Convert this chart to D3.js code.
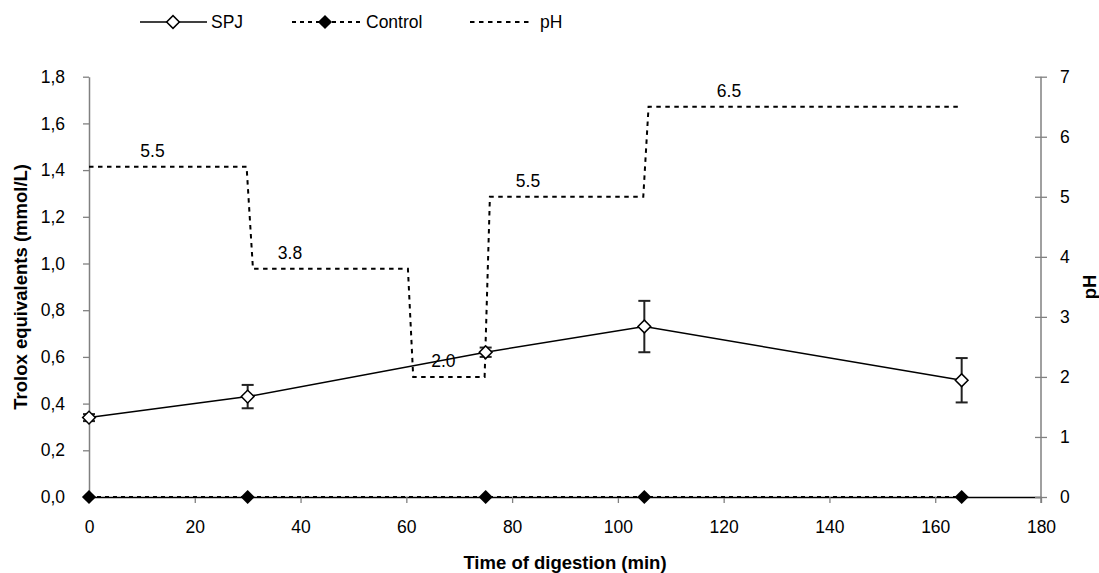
<!DOCTYPE html>
<html>
<head>
<meta charset="utf-8">
<script src="https://cdn.jsdelivr.net/npm/d3@7"></script>
<style>
  html, body { margin: 0; padding: 0; background: #fff; }
  svg { display: block; font-family: "Liberation Sans", Arial, sans-serif; }
</style>
</head>
<body>
<svg id="chart" width="1099" height="573"></svg>
<script>
// ---- data ----
const times = [0, 30, 75, 105, 165];
const spj = [0.34, 0.43, 0.62, 0.73, 0.50];
const spjErr = [0.015, 0.05, 0.02, 0.11, 0.095];
const control = [0, 0, 0, 0, 0];
const phTimes = [0, 29.8, 31, 60.3, 61.3, 74.8, 75.8, 104.8, 105.8, 165];
const phValues = [5.5, 5.5, 3.8, 3.8, 2.0, 2.0, 5.0, 5.0, 6.5, 6.5];
const phLabels = ["5.5", "3.8", "2.0", "5.5", "6.5"];
const phLabelTimes = [12, 38, 67, 83, 121];
const phLabelLevels = [5.5, 3.8, 2.0, 5.0, 6.5];
const xTicks = [0, 20, 40, 60, 80, 100, 120, 140, 160, 180];
const yLeftTicks = [0, 0.2, 0.4, 0.6, 0.8, 1.0, 1.2, 1.4, 1.6, 1.8];
const yRightTicks = [0, 1, 2, 3, 4, 5, 6, 7];

(function () {
// ---- layout ----
const svg = d3.select("#chart");
const pLeft = 89, pRight = 1041, pTop = 76.7, pBottom = 497;
const x = d3.scaleLinear().domain([0, 180]).range([pLeft, pRight]);
const yL = d3.scaleLinear().domain([0, 1.8]).range([pBottom, pTop]);
const yR = d3.scaleLinear().domain([0, 7]).range([pBottom, pTop]);
const fs = 17.5;
const axisGray = "#808080";
const ff = "Liberation Sans, Arial, sans-serif";

// x axis
const gx = svg.append("g").attr("transform", `translate(0,${pBottom})`)
  .call(d3.axisBottom(x).tickValues(xTicks).tickSize(6).tickPadding(18).tickSizeOuter(0));
gx.select(".domain").attr("stroke", "#000").attr("stroke-width", 1.3);
gx.selectAll(".tick line").attr("stroke", axisGray).attr("stroke-width", 1.3);
gx.selectAll(".tick text").attr("font-size", fs).attr("fill", "#000").attr("font-family", ff);

// left axis
const gl = svg.append("g").attr("transform", `translate(${pLeft},0)`)
  .call(d3.axisLeft(yL).tickValues(yLeftTicks).tickSize(6).tickPadding(18).tickSizeOuter(0)
    .tickFormat(d => d3.format(".1f")(d).replace(".", ",")));
gl.select(".domain").attr("stroke", axisGray).attr("stroke-width", 1.5);
gl.selectAll(".tick line").attr("stroke", axisGray).attr("stroke-width", 1.3);
gl.selectAll(".tick text").attr("font-size", fs).attr("fill", "#000").attr("font-family", ff);

// right axis
const gr = svg.append("g").attr("transform", `translate(${pRight},0)`)
  .call(d3.axisRight(yR).tickValues(yRightTicks).tickSize(6).tickPadding(13).tickSizeOuter(0)
    .tickFormat(d3.format("d")));
gr.select(".domain").attr("stroke", axisGray).attr("stroke-width", 1.5)
  .attr("d", `M0,${pTop}V${pBottom + 6}`);
gr.selectAll(".tick line").attr("x1", -6).attr("stroke", axisGray).attr("stroke-width", 1.3);
gr.selectAll(".tick text").attr("font-size", fs).attr("fill", "#000").attr("font-family", ff);

// axis titles
svg.append("text").attr("x", (pLeft + pRight) / 2).attr("y", 563).attr("dy", "0.35em")
  .attr("text-anchor", "middle").attr("font-size", 18.5).attr("font-weight", "bold")
  .text("Time of digestion (min)");
svg.append("text").attr("transform", `translate(21,${(pTop + pBottom) / 2}) rotate(-90)`)
  .attr("dy", "0.35em").attr("text-anchor", "middle").attr("font-size", 18.5).attr("font-weight", "bold")
  .text("Trolox equivalents (mmol/L)");
svg.append("text").attr("transform", `translate(1090,${(pTop + pBottom) / 2}) rotate(-90)`)
  .attr("dy", "0.35em").attr("text-anchor", "middle").attr("font-size", 18.5).attr("font-weight", "bold")
  .text("pH");

// pH step line
const phData = phTimes.map((t, i) => [t, phValues[i]]);
svg.append("path").datum(phData)
  .attr("fill", "none").attr("stroke", "#000").attr("stroke-width", 2)
  .attr("stroke-dasharray", "4.5,4.5")
  .attr("d", d3.line().x(d => x(d[0])).y(d => yR(d[1])));

phLabels.forEach((lab, i) => {
  svg.append("text").attr("x", x(phLabelTimes[i])).attr("y", yR(phLabelLevels[i]) - 16)
    .attr("dy", "0.35em").attr("text-anchor", "middle").attr("font-size", fs).text(lab);
});

// Control line
const ctrlData = times.map((t, i) => [t, control[i]]);
svg.append("path").datum(ctrlData)
  .attr("fill", "none").attr("stroke", "#000").attr("stroke-width", 2)
  .attr("stroke-dasharray", "4,4")
  .attr("d", d3.line().x(d => x(d[0])).y(d => yL(d[1])));

svg.append("g").selectAll("path").data(ctrlData).join("path")
  .attr("transform", d => `translate(${x(d[0])},${yL(d[1])}) rotate(45)`)
  .attr("d", d3.symbol().type(d3.symbolSquare).size(100))
  .attr("fill", "#000");

// SPJ line
const spjData = times.map((t, i) => [t, spj[i], spjErr[i]]);
svg.append("path").datum(spjData)
  .attr("fill", "none").attr("stroke", "#000").attr("stroke-width", 1.5)
  .attr("d", d3.line().x(d => x(d[0])).y(d => yL(d[1])));

// error bars
const eb = svg.append("g").attr("stroke", "#222").attr("stroke-width", 2);
spjData.forEach(d => {
  const cx = x(d[0]), y1 = yL(d[1] + d[2]), y2 = yL(d[1] - d[2]);
  eb.append("line").attr("x1", cx).attr("x2", cx).attr("y1", y1).attr("y2", y2);
  eb.append("line").attr("x1", cx - 6).attr("x2", cx + 6).attr("y1", y1).attr("y2", y1);
  eb.append("line").attr("x1", cx - 6).attr("x2", cx + 6).attr("y1", y2).attr("y2", y2);
});

svg.append("g").selectAll("path").data(spjData).join("path")
  .attr("transform", d => `translate(${x(d[0])},${yL(d[1])}) rotate(45)`)
  .attr("d", d3.symbol().type(d3.symbolSquare).size(81))
  .attr("fill", "#fff").attr("stroke", "#000").attr("stroke-width", 1.5);

// legend
const ly = 22;
const lg = svg.append("g");
lg.append("line").attr("x1", 140).attr("x2", 207).attr("y1", ly).attr("y2", ly)
  .attr("stroke", "#000").attr("stroke-width", 1.5);
lg.append("path").attr("transform", `translate(173,${ly}) rotate(45)`)
  .attr("d", d3.symbol().type(d3.symbolSquare).size(81))
  .attr("fill", "#fff").attr("stroke", "#000").attr("stroke-width", 1.5);
lg.append("text").attr("x", 211).attr("y", ly).attr("dy", "0.35em").attr("font-size", fs).text("SPJ");

lg.append("line").attr("x1", 292).attr("x2", 360).attr("y1", ly).attr("y2", ly)
  .attr("stroke", "#000").attr("stroke-width", 2).attr("stroke-dasharray", "4,4");
lg.append("path").attr("transform", `translate(325,${ly}) rotate(45)`)
  .attr("d", d3.symbol().type(d3.symbolSquare).size(100)).attr("fill", "#000");
lg.append("text").attr("x", 366).attr("y", ly).attr("dy", "0.35em").attr("font-size", fs).text("Control");

lg.append("line").attr("x1", 470).attr("x2", 533).attr("y1", ly).attr("y2", ly)
  .attr("stroke", "#000").attr("stroke-width", 2).attr("stroke-dasharray", "4.5,4.5");
lg.append("text").attr("x", 540).attr("y", ly).attr("dy", "0.35em").attr("font-size", fs).text("pH");
})();
</script>
</body>
</html>
